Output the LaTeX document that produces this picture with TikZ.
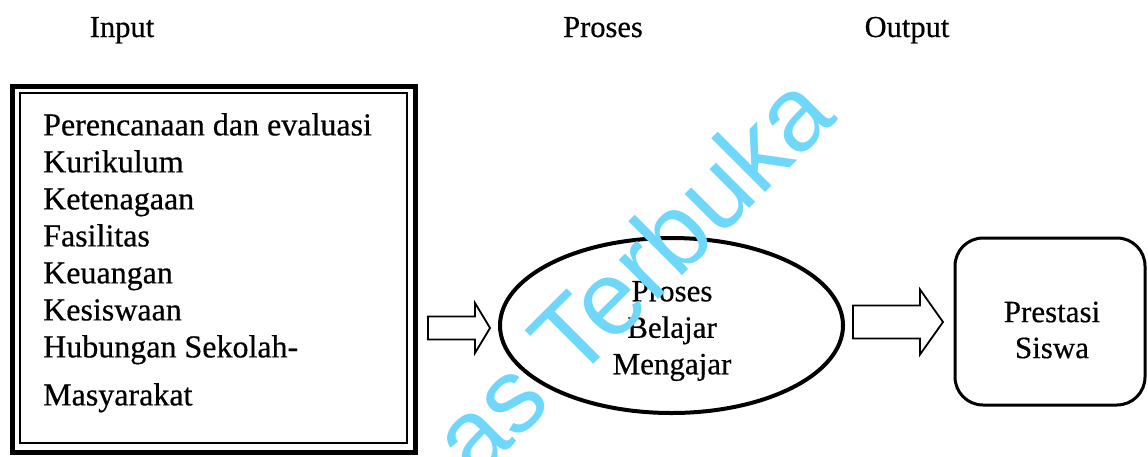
\documentclass[tikz,border=0pt]{standalone}
\usepackage{fontspec}
\setmainfont[FakeBold=0.5]{Liberation Serif}
\newfontfamily\wmfont{Liberation Sans}
\usetikzlibrary{shapes.geometric,calc}
\definecolor{wmcyan}{RGB}{110,215,250}
\newcommand\blockarrow[5]{%
  \path[barrow] let \p1=(#1), \p2=(#2) in
  (\x1,\y1+#3) -- (\x2-#5,\y1+#3) -- (\x2-#5,\y1+#4) -- (\x2,\y1)
  -- (\x2-#5,\y1-#4) -- (\x2-#5,\y1-#3) -- (\x1,\y1-#3) -- cycle;}
\tikzset{
  lbl/.style={font=\fontsize{31}{37}\selectfont, inner sep=0pt},
  head/.style={font=\fontsize{30.5}{36}\selectfont, inner sep=0pt, anchor=base},
  frame/.style={draw, line width=5pt, minimum width=403pt, minimum height=366pt, inner sep=0pt, outer sep=0pt},
  inframe/.style={draw, line width=1.5pt},
  procell/.style={draw, ellipse, line width=4pt, minimum width=343pt, minimum height=175pt, inner sep=0pt, outer sep=0pt},
  outbox/.style={draw, rounded corners=28pt, line width=3pt, minimum width=190pt, minimum height=167pt, inner sep=0pt, outer sep=0pt},
  barrow/.style={draw, line width=1.8pt, fill=white, line join=miter},
  wm/.style={text=wmcyan, font=\wmfont\fontsize{105}{105}\selectfont, rotate=45, anchor=base east, inner sep=0pt},
}
\begin{document}
\begin{tikzpicture}[x=1pt,y=-1pt]
\useasboundingbox (0,0) rectangle (1148,456);
\fill[white] (0,0) rectangle (1148,456);

% headers
\node[head] (hin) at (122,37) {Input};
\node[head] (hpro) at (603,37) {Proses};
\node[head] (hout) at (907,37) {Output};

% input box
\node[frame] (inbox) at (213.5,269) {};
\draw[inframe] ([shift={(8,7)}]inbox.north west) rectangle ([shift={(-8,-9)}]inbox.south east);
\node[lbl, align=left, anchor=north west, font=\fontsize{32}{37}\selectfont] (inlist) at (43,113)
  {Perencanaan dan evaluasi\\Kurikulum\\Ketenagaan\\Fasilitas\\Keuangan\\Kesiswaan\\Hubungan Sekolah-\\[11pt]Masyarakat};

% process ellipse
\node[procell] (ell) at (671.5,325.5) {};
\node[lbl, align=center, font=\fontsize{31}{36.5}\selectfont] (ellt) at (672,331) {Proses\\Belajar\\Mengajar};

% output box
\node[outbox] (out) at (1050,321.5) {};
\node[lbl, align=center, font=\fontsize{31}{36}\selectfont] (outt) at (1052,330) {Prestasi\\Siswa};

% block arrows
\coordinate (a1s) at (428,328);
\coordinate (a1t) at (490,328);
\coordinate (a2s) at (853,322);
\coordinate (a2t) at (943,322);
\blockarrow{a1s}{a1t}{11.5pt}{25pt}{15pt}
\blockarrow{a2s}{a2t}{16.5pt}{32.5pt}{23pt}

% watermark
\begin{scope}
\clip (0,0) rectangle (1148,456);
\node[wm] (wmark) at (839,119) {as Terbuka};
\end{scope}
\end{tikzpicture}
\end{document}
